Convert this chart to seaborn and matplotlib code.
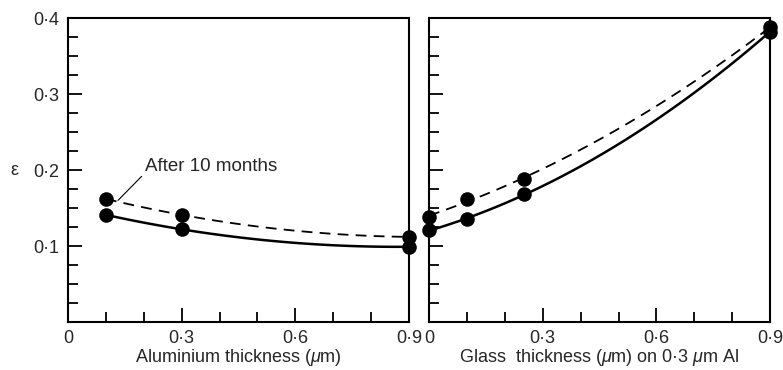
import matplotlib.pyplot as plt
import seaborn as sns
import numpy as np
import pandas as pd
from matplotlib.ticker import MultipleLocator, FixedLocator

# data
al_x = [0.1, 0.3, 0.9]
al_fresh = [0.141, 0.122, 0.099]
al_aged = [0.162, 0.141, 0.112]

gl_x = [0.0, 0.1, 0.25, 0.9]
gl_fresh = [0.121, 0.135, 0.168, 0.382]
gl_aged = [0.138, 0.162, 0.188, 0.388]

xtick_vals = [0, 0.3, 0.6, 0.9]
xtick_labels = ['0', '0·3', '0·6', '0·9']
ytick_vals = [0.1, 0.2, 0.3, 0.4]
ytick_labels = ['0·1', '0·2', '0·3', '0·4']

sns.set_style('ticks')
plt.rcParams['font.family'] = ['Liberation Sans', 'DejaVu Sans']
plt.rcParams['mathtext.fontset'] = 'custom'
plt.rcParams['mathtext.it'] = 'Liberation Sans:italic'

fig = plt.figure(figsize=(7.83, 3.70), dpi=100)
ax1 = fig.add_axes([0.0868, 0.1297, 0.4355, 0.8216])
ax2 = fig.add_axes([0.548, 0.1297, 0.4355, 0.8216])


def draw_panel(ax, x, fresh, aged):
    df = pd.DataFrame({'x': x, 'fresh': fresh, 'aged': aged})
    # smooth quadratic curves through the points
    sns.regplot(data=df, x='x', y='aged', order=2, ci=None, scatter=False,
                truncate=True, ax=ax,
                line_kws=dict(color='black', lw=1.3, ls=(0, (6, 4))))
    sns.regplot(data=df, x='x', y='fresh', order=2, ci=None, scatter=False,
                truncate=True, ax=ax,
                line_kws=dict(color='black', lw=1.8))
    for col in ['aged', 'fresh']:
        sns.scatterplot(data=df, x='x', y=col, ax=ax, color='black', s=110,
                        edgecolor='black', linewidth=0, zorder=5, legend=False,
                        clip_on=False)

    ax.set_xlim(0, 0.9)
    ax.set_ylim(0, 0.4)
    ax.xaxis.set_major_locator(FixedLocator(xtick_vals))
    ax.xaxis.set_minor_locator(MultipleLocator(0.1))
    ax.yaxis.set_major_locator(FixedLocator(ytick_vals))
    ax.yaxis.set_minor_locator(MultipleLocator(0.025))
    ax.set_xticklabels(xtick_labels)
    ax.tick_params(which='both', direction='in', top=False, right=False,
                   width=1.3, labelsize=13, color='black')
    ax.tick_params(which='major', length=10, pad=6)
    ax.tick_params(which='minor', length=7)
    for s in ax.spines.values():
        s.set_linewidth(1.5)
        s.set_color('black')
    ax.set_ylabel('')


draw_panel(ax1, al_x, al_fresh, al_aged)
draw_panel(ax2, gl_x, gl_fresh, gl_aged)

ax1.set_yticklabels(ytick_labels)
ax2.set_yticklabels([])

ax1.set_xlabel(r'Aluminium thickness ($\mu$m)', fontsize=13, labelpad=0)
ax2.set_xlabel(r'Glass  thickness ($\mu$m) on 0·3 $\mu$m Al', fontsize=13, labelpad=0)

ax1.annotate('After 10 months', xy=(0.132, 0.160), xytext=(0.203, 0.205),
             fontsize=13.5, ha='left', va='center',
             arrowprops=dict(arrowstyle='-', lw=0.8, color='black',
                             relpos=(0, 0.1), shrinkA=0, shrinkB=0))

fig.text(0.013, 1 - 171 / 370, 'ε', fontsize=13, va='center', ha='left')

fig.savefig('out.png', dpi=100, facecolor='white')
